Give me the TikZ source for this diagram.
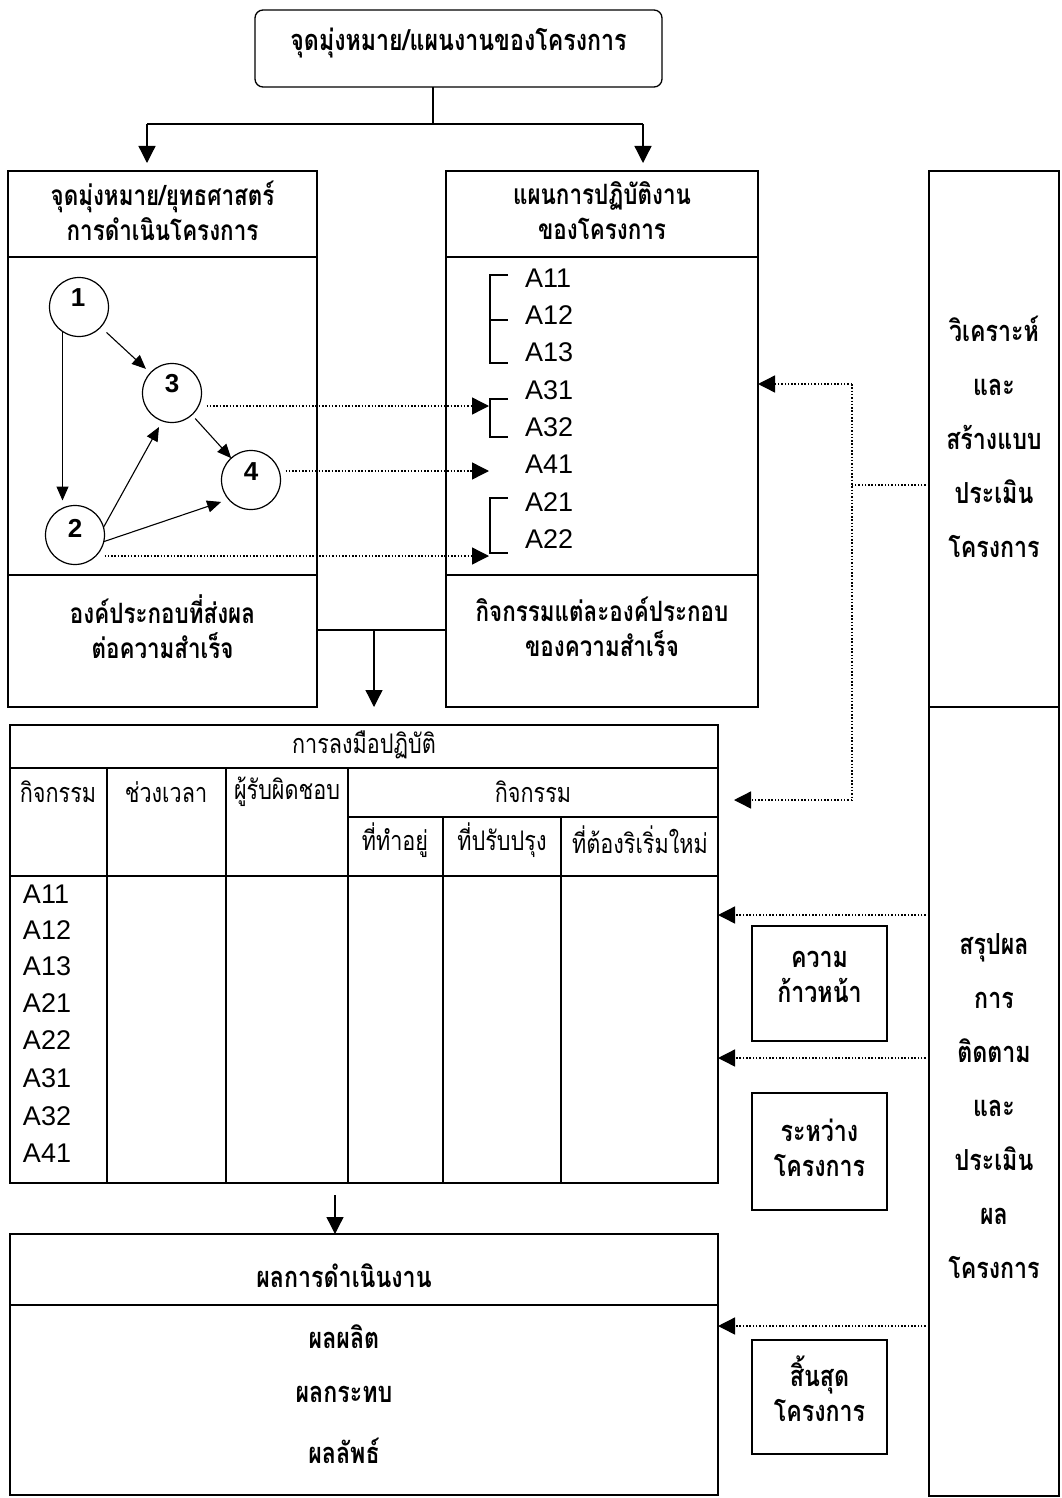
\documentclass[tikz,border=0pt]{standalone}
\usepackage{fontspec}
\usetikzlibrary{arrows.meta,calc}
\newfontfamily\thai[Script=Thai,FakeStretch=0.8]{Loma}
\newfontfamily\lat{Liberation Sans}
\begin{document}
\begin{tikzpicture}[x=1pt,y=-1pt,line width=1.3pt,
  every node/.style={inner sep=0pt,outer sep=0pt},
  bx/.style={draw,rectangle},
  th/.style={font=\thai\bfseries\fontsize{28}{35}\selectfont,align=center},
  thb/.style={font=\thai\bfseries\fontsize{29}{35}\selectfont,align=center},
  ths/.style={font=\thai\fontsize{27}{32}\selectfont,align=center},
  colt/.style={font=\thai\bfseries\fontsize{29}{54}\selectfont,align=center},
  al/.style={font=\lat\fontsize{27}{27}\selectfont,anchor=west},
  num/.style={font=\lat\bfseries\fontsize{26}{26}\selectfont},
  circ/.style={draw,circle,minimum size=59pt,line width=1.2pt},
  arr/.style={-{Triangle[length=17pt,width=17pt]}},
  garr/.style={line width=1.1pt,-{Triangle[length=14pt,width=12pt]}},
  dotl/.style={line width=1.4pt,dash pattern=on 1.5pt off 1.8pt},
  darr/.style={dotl,-{Triangle[length=17pt,width=17pt]}}]
\fill[white] (0,0) rectangle (1061,1498);
\useasboundingbox (0,0) rectangle (1061,1498);

% top box
\node[draw,rounded corners=8pt,minimum width=407pt,minimum height=77pt] (topbox) at (458.5,48.5) {};
\node[thb] (toptext) at (458.5,43) {จุดมุ่งหมาย/แผนงานของโครงการ};
\coordinate (jn) at (433,124);
\coordinate (jl) at (147,124);
\coordinate (jr) at (643,124);

% left box
\node[bx,minimum width=309pt,minimum height=86pt] (lhead) at (162.5,214) {};
\node[bx,minimum width=309pt,minimum height=318pt] (lmid) at (162.5,416) {};
\node[bx,minimum width=309pt,minimum height=132pt] (lfoot) at (162.5,641) {};
\node[th] (lheadt) at (162.5,211) {จุดมุ่งหมาย/ยุทธศาสตร์\\การดำเนินโครงการ};
\node[th] (lfoott) at (162.5,627) {องค์ประกอบที่ส่งผล\\ต่อความสำเร็จ};

% middle box
\node[bx,minimum width=312pt,minimum height=86pt] (mhead) at (602,214) {};
\node[bx,minimum width=312pt,minimum height=318pt] (mmid) at (602,416) {};
\node[bx,minimum width=312pt,minimum height=132pt] (mfoot) at (602,641) {};
\node[th] (mheadt) at (602,211) {แผนการปฏิบัติงาน\\ของโครงการ};
\node[th] (mfoott) at (602,627) {กิจกรรมแต่ละองค์ประกอบ\\ของความสำเร็จ};

% top connectors
\draw (topbox.south -| jn) -- (jn);
\draw (jl) -- (jr);
\draw[arr,shorten >=8pt] (jl) -- (jl |- lhead.north);
\draw[arr,shorten >=8pt] (jr) -- (jr |- mhead.north);

% graph
\node[circ] (c1) at (79,307) {};
\node[circ] (c3) at (172,393) {};
\node[circ] (c4) at (251,480) {};
\node[circ] (c2) at (75,535) {};
\node[num] (n1) at (78,298) {1};
\node[num] (n3) at (172,384) {3};
\node[num] (n4) at (251,472) {4};
\node[num] (n2) at (75,528) {2};
\draw[garr,shorten >=5pt] (c1.236) -- (c1.236 |- c2.north);
\draw[garr,shorten <=8pt,shorten >=6pt] (c1) -- (c3);
\draw[garr,shorten <=5pt] (c3) -- (c4);
\draw[garr,shorten >=7pt] (c2.15) -- (c3.251);
\draw[garr,shorten >=8pt] (c2.347) -- (c4.221);

% activity list
\node[al] (a11) at (525,278) {A11};
\node[al] (a12) at (525,315) {A12};
\node[al] (a13) at (525,352) {A13};
\node[al] (a31) at (525,390) {A31};
\node[al] (a32) at (525,427) {A32};
\node[al] (a41) at (525,464) {A41};
\node[al] (a21) at (525,502) {A21};
\node[al] (a22) at (525,539) {A22};
\begin{scope}[line width=1.2pt]
\draw (508,275) -- (490,275) -- (490,363) -- (508,363);
\draw (490,320) -- (508,320);
\draw (508,399) -- (490,399) -- (490,437) -- (508,437);
\draw (508,498) -- (490,498) -- (490,553) -- (508,553);
\end{scope}
\coordinate (t3) at (489,406);
\coordinate (t4) at (489,471);
\coordinate (t2) at (489,556);
\draw[darr,shorten <=5pt] (c3.east |- t3) -- (t3);
\draw[darr,shorten <=5pt] (c4.east |- t4) -- (t4);
\draw[darr] (c2.east |- t2) -- (t2);

% right column
\node[bx,minimum width=130pt,minimum height=536pt] (rtop) at (994,439) {};
\node[bx,minimum width=130pt,minimum height=789pt] (rbot) at (994,1101.5) {};
\node[colt] (rtopt) at (994,437) {วิเคราะห์\\และ\\สร้างแบบ\\ประเมิน\\โครงการ};
\node[colt] (rbott) at (994,1106) {สรุปผล\\การ\\ติดตาม\\และ\\ประเมิน\\ผล\\โครงการ};

% table
\node[bx,minimum width=708pt,minimum height=458pt] (tbl) at (364,954) {};
\draw (10,768) -- (718,768);
\draw (348,817) -- (718,817);
\draw (10,876) -- (718,876);
\draw (107,768) -- (107,1183);
\draw (226,768) -- (226,1183);
\draw (348,768) -- (348,1183);
\draw (443,817) -- (443,1183);
\draw (561,817) -- (561,1183);
\node[ths] (ttitle) at (364,745) {การลงมือปฏิบัติ};
\node[ths] (h1) at (58,792) {กิจกรรม};
\node[ths] (h2) at (166,792) {ช่วงเวลา};
\node[ths] (h3) at (287,792) {ผู้รับผิดชอบ};
\node[ths] (h4) at (533,792) {กิจกรรม};
\node[ths] (h5) at (395,840) {ที่ทำอยู่};
\node[ths] (h6) at (502,840) {ที่ปรับปรุง};
\node[ths] (h7) at (640,840) {ที่ต้องริเริ่มใหม่};
\node[al] (b1) at (23,894) {A11};
\node[al] (b2) at (23,930) {A12};
\node[al] (b3) at (23,966) {A13};
\node[al] (b4) at (23,1003) {A21};
\node[al] (b5) at (23,1040) {A22};
\node[al] (b6) at (23,1078) {A31};
\node[al] (b7) at (23,1116) {A32};
\node[al] (b8) at (23,1153) {A41};

% middle junction to table
\coordinate (mj) at (374,630);
\draw (lfoot.east |- mj) -- (mfoot.west |- mj);
\draw[arr,shorten >=18pt] (mj) -- (mj |- tbl.north);

% result box
\node[bx,minimum width=708pt,minimum height=261pt] (res) at (364,1364.5) {};
\draw (10,1305) -- (718,1305);
\node[thb] (rest) at (344,1276) {ผลการดำเนินงาน};
\node[thb] (r1) at (344,1337) {ผลผลิต};
\node[thb] (r2) at (344,1394) {ผลกระทบ};
\node[thb] (r3) at (344,1451) {ผลลัพธ์};
\coordinate (x335) at (335,0);
\draw[arr,shorten <=12pt] (tbl.south -| x335) -- (res.north -| x335);

% small boxes
\node[bx,minimum width=135pt,minimum height=115pt] (sb1) at (819.5,983.5) {};
\node[bx,minimum width=135pt,minimum height=117pt] (sb2) at (819.5,1151.5) {};
\node[bx,minimum width=135pt,minimum height=114pt] (sb3) at (819.5,1397) {};
\node[thb] (sb1t) at (819.5,977) {ความ\\ก้าวหน้า};
\node[thb] (sb2t) at (819.5,1148) {ระหว่าง\\โครงการ};
\node[thb] (sb3t) at (819.5,1389) {สิ้นสุด\\โครงการ};

% dotted connectors from right column
\coordinate (rj) at (852,485);
\coordinate (ru) at (852,384);
\coordinate (rd) at (852,800);
\coordinate (tb) at (734,800);
\draw[dotl] (rtop.west |- rj) -- (rj);
\draw[dotl] (ru) -- (rd);
\draw[darr] (ru) -- (mmid.east |- ru);
\draw[darr] (rd) -- (tb);
\coordinate (p1) at (0,915);
\coordinate (p2) at (0,1058);
\coordinate (p3) at (0,1326);
\draw[darr] (rbot.west |- p1) -- (tbl.east |- p1);
\draw[darr] (rbot.west |- p2) -- (tbl.east |- p2);
\draw[darr] (rbot.west |- p3) -- (res.east |- p3);
\end{tikzpicture}
\end{document}
